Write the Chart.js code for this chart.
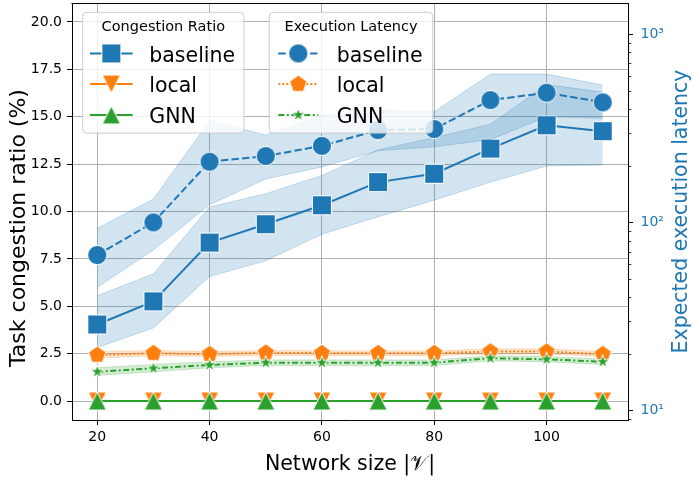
<!DOCTYPE html>
<html>
<head>
<meta charset="utf-8">
<script src="https://cdn.jsdelivr.net/npm/chart.js@4/dist/chart.umd.min.js"></script>
<style>
html,body{margin:0;padding:0;background:#ffffff;}
#wrap{width:696px;height:482px;position:relative;}
</style>
</head>
<body>
<div id="wrap"><canvas id="c" width="696" height="482"></canvas></div>
<script>
// ---------------- data ----------------
const networkSizes = [20, 30, 40, 50, 60, 70, 80, 90, 100, 110];

// Task congestion ratio (%) - left axis
const congBaseline      = [4.04, 5.26, 8.36, 9.33, 10.33, 11.55, 11.99, 13.32, 14.55, 14.24];
const congBaselineLow   = [2.82, 3.86, 6.57, 7.40, 8.80, 9.72, 10.60, 11.55, 12.40, 12.45];
const congBaselineHigh  = [5.56, 6.71, 10.24, 10.94, 11.90, 13.25, 13.90, 14.60, 16.70, 16.30];
const congLocal         = [0, 0, 0, 0, 0, 0, 0, 0, 0, 0];
const congGNN           = [0, 0, 0, 0, 0, 0, 0, 0, 0, 0];

// Expected execution latency - right (log) axis
const latBaseline       = [67.1, 100, 210, 225, 255, 309, 313, 446, 488, 434];
const latBaselineLow    = [45.2, 71.3, 124, 170, 197, 240, 252, 275, 364, 357];
const latBaselineHigh   = [93, 133, 347, 291, 371, 395, 387, 613, 613, 536];
const latLocal          = [19.76, 20.2, 19.95, 20.3, 20.2, 20.2, 20.2, 20.6, 20.6, 19.95];
const latLocalLow       = [19.0, 19.6, 19.4, 19.7, 19.6, 19.6, 19.6, 20.0, 20.0, 19.4];
const latLocalHigh      = [20.6, 20.9, 20.6, 20.9, 20.8, 20.8, 20.8, 21.3, 21.3, 20.6];
const latGNN            = [16.1, 16.8, 17.5, 18.0, 18.0, 18.0, 18.0, 19.0, 18.75, 18.2];
const latGNNLow         = [15.4, 16.1, 16.9, 17.4, 17.4, 17.4, 17.4, 18.4, 18.2, 17.6];
const latGNNHigh        = [16.9, 17.6, 18.2, 18.6, 18.6, 18.6, 18.6, 19.6, 19.4, 18.8];

// ticks
const xTicks = [20, 40, 60, 80, 100];
const yTicks = [0, 2.5, 5, 7.5, 10, 12.5, 15, 17.5, 20];
const y2MajorTicks = [10, 100, 1000];
const y2MajorLabels = ['10\u00B9', '10\u00B2', '10\u00B3'];
const y2MinorTicks = [9, 20, 30, 40, 50, 60, 70, 80, 90, 200, 300, 400, 500, 600, 700, 800, 900];

const legendCongTitle = 'Congestion Ratio';
const legendLatTitle = 'Execution Latency';
const seriesNames = ['baseline', 'local', 'GNN'];

// ---------------- styles ----------------
const BLUE = '#1f77b4', ORANGE = '#ff7f0e', GREEN = '#2ca02c';
const FONT = '"DejaVu Sans", "Liberation Sans", sans-serif';
Chart.defaults.font.family = FONT;

function drawShape(g, shape, cx, cy, color) {
  g.beginPath();
  if (shape === 'square') {
    g.rect(cx - 9.5, cy - 9.5, 19, 19);
  } else if (shape === 'circle') {
    g.arc(cx, cy, 9.6, 0, Math.PI * 2);
  } else if (shape === 'triUp') {
    g.moveTo(cx, cy - 9); g.lineTo(cx + 9, cy + 9); g.lineTo(cx - 9, cy + 9); g.closePath();
  } else if (shape === 'triDown') {
    g.moveTo(cx, cy + 9); g.lineTo(cx + 9, cy - 9); g.lineTo(cx - 9, cy - 9); g.closePath();
  } else if (shape === 'pentagon') {
    for (let k = 0; k < 5; k++) {
      const a = -Math.PI / 2 + k * 2 * Math.PI / 5;
      const px = cx + 9 * Math.cos(a), py = cy + 9 * Math.sin(a);
      if (k === 0) g.moveTo(px, py); else g.lineTo(px, py);
    }
    g.closePath();
  } else if (shape === 'star') {
    for (let k = 0; k < 10; k++) {
      const r = (k % 2 === 0) ? 7.2 : 7.2 * 0.381966;
      const a = -Math.PI / 2 + k * Math.PI / 5;
      const px = cx + r * Math.cos(a), py = cy + r * Math.sin(a);
      if (k === 0) g.moveTo(px, py); else g.lineTo(px, py);
    }
    g.closePath();
  }
  g.fillStyle = color; g.fill();
  g.lineWidth = 1; g.strokeStyle = '#ffffff'; g.lineJoin = 'miter'; g.stroke();
}
function marker(shape, color) {
  const c = document.createElement('canvas');
  c.width = 26; c.height = 26;
  drawShape(c.getContext('2d'), shape, 13, 13, color);
  return c;
}
const mk = {
  square: marker('square', BLUE),
  triDown: marker('triDown', ORANGE),
  triUp: marker('triUp', GREEN),
  circle: marker('circle', BLUE),
  pentagon: marker('pentagon', ORANGE),
  star: marker('star', GREEN)
};

const DASH_BASE = [7.4, 3.2];
const DASH_LOCAL = [2, 2];
const DASH_GNN = [6, 2.5, 2, 2.5];

function pts(ys) { return networkSizes.map((x, i) => ({x: x, y: ys[i]})); }

let seq = 0;
function bandLow(ys, axis, rgb) {
  return {data: pts(ys), yAxisID: axis, order: 100 - (seq++), pointRadius: 0, borderWidth: 1,
    borderColor: 'rgba(' + rgb + ',0.22)', fill: false, tension: 0};
}
function bandHigh(ys, axis, rgb) {
  return {data: pts(ys), yAxisID: axis, order: 100 - (seq++), pointRadius: 0, borderWidth: 1,
    borderColor: 'rgba(' + rgb + ',0.22)', backgroundColor: 'rgba(' + rgb + ',0.2)', fill: '-1', tension: 0};
}
function line(ys, axis, color, style, dash) {
  return {data: pts(ys), yAxisID: axis, order: 100 - (seq++), borderColor: color, borderWidth: 2,
    borderDash: dash, pointStyle: style, pointRadius: 10, pointHoverRadius: 10, fill: false, tension: 0};
}

const datasets = [
  bandLow(congBaselineLow, 'y', '31,119,180'),
  bandHigh(congBaselineHigh, 'y', '31,119,180'),
  line(congBaseline, 'y', BLUE, mk.square, []),
  line(congLocal, 'y', ORANGE, mk.triDown, []),
  line(congGNN, 'y', GREEN, mk.triUp, []),
  bandLow(latBaselineLow, 'y2', '31,119,180'),
  bandHigh(latBaselineHigh, 'y2', '31,119,180'),
  bandLow(latLocalLow, 'y2', '255,127,14'),
  bandHigh(latLocalHigh, 'y2', '255,127,14'),
  bandLow(latGNNLow, 'y2', '44,160,44'),
  bandHigh(latGNNHigh, 'y2', '44,160,44'),
  line(latBaseline, 'y2', BLUE, mk.circle, DASH_BASE),
  line(latLocal, 'y2', ORANGE, mk.pentagon, DASH_LOCAL),
  line(latGNN, 'y2', GREEN, mk.star, DASH_GNN)
];

// ---------------- custom drawing plugin ----------------
function drawLegend(ctx, box, title, entries) {
  ctx.save();
  ctx.beginPath();
  ctx.roundRect(box.x, box.y, box.w, box.h, 4);
  ctx.fillStyle = 'rgba(255,255,255,0.8)';
  ctx.fill();
  ctx.lineWidth = 1;
  ctx.strokeStyle = '#cccccc';
  ctx.stroke();
  ctx.fillStyle = '#000';
  ctx.font = '14.5px ' + FONT;
  ctx.textAlign = 'center';
  ctx.textBaseline = 'alphabetic';
  ctx.fillText(title, box.x + box.w / 2, 31);
  const rows = [53.4, 84.1, 114.9];
  entries.forEach((e, i) => {
    const cy = rows[i];
    ctx.beginPath();
    ctx.setLineDash(e.dash);
    ctx.strokeStyle = e.color;
    ctx.lineWidth = 2;
    ctx.moveTo(box.hx0, cy); ctx.lineTo(box.hx1, cy);
    ctx.stroke();
    ctx.setLineDash([]);
    const mx = (box.hx0 + box.hx1) / 2;
    ctx.drawImage(e.img, mx - 13, cy - 13);
    ctx.fillStyle = '#000';
    ctx.font = '20.5px ' + FONT;
    ctx.textAlign = 'left';
    ctx.fillText(e.label, box.tx, cy + 8.3);
  });
  ctx.restore();
}

const decor = {
  id: 'decor',
  afterDraw(chart) {
    const ctx = chart.ctx;
    const a = chart.chartArea;
    const y2 = chart.scales.y2;
    ctx.save();
    // top spine
    ctx.beginPath();
    ctx.strokeStyle = '#000'; ctx.lineWidth = 1;
    ctx.moveTo(a.left - 0.5, Math.round(a.top) + 0.5); ctx.lineTo(a.right + 0.5, Math.round(a.top) + 0.5);
    ctx.stroke();
    // minor ticks on log axis
    ctx.lineWidth = 0.8;
    y2MinorTicks.forEach(v => {
      if (v < y2.min || v > y2.max) return;
      const py = Math.round(y2.getPixelForValue(v)) + 0.5;
      ctx.beginPath(); ctx.moveTo(a.right, py); ctx.lineTo(a.right + 3.3, py); ctx.stroke();
    });
    // axis titles
    ctx.fillStyle = '#000';
    ctx.textAlign = 'center'; ctx.textBaseline = 'middle';
    ctx.font = '22px ' + FONT;
    ctx.save(); ctx.translate(19.5, 228); ctx.rotate(-Math.PI / 2);
    ctx.fillText('Task congestion ratio (%)', 0, 0); ctx.restore();
    ctx.font = '20.5px ' + FONT;
    ctx.save(); ctx.translate(681.5, (a.top + a.bottom) / 2); ctx.rotate(-Math.PI / 2);
    ctx.fillStyle = BLUE;
    ctx.fillText('Expected execution latency', 0, 0); ctx.restore();
    ctx.textBaseline = 'alphabetic';
    ctx.fillText('Network size |\uD835\uDCB1|', (a.left + a.right) / 2, 470);
    ctx.restore();
    // legends
    drawLegend(ctx, {x: 82.7, y: 12.3, w: 161.3, h: 120.8, hx0: 90, hx1: 132.7, tx: 149.3}, legendCongTitle, [
      {label: seriesNames[0], color: BLUE, dash: [], img: mk.square},
      {label: seriesNames[1], color: ORANGE, dash: [], img: mk.triDown},
      {label: seriesNames[2], color: GREEN, dash: [], img: mk.triUp}
    ]);
    drawLegend(ctx, {x: 269.3, y: 12.3, w: 163.5, h: 120.8, hx0: 278.3, hx1: 318.3, tx: 336.7}, legendLatTitle, [
      {label: seriesNames[0], color: BLUE, dash: DASH_BASE, img: mk.circle},
      {label: seriesNames[1], color: ORANGE, dash: DASH_LOCAL, img: mk.pentagon},
      {label: seriesNames[2], color: GREEN, dash: DASH_GNN, img: mk.star}
    ]);
  }
};

const tickFont = {size: 14, family: FONT};
function noPadV(s, w) { s.width = w; s.paddingTop = 0; s.paddingBottom = 0; }

new Chart(document.getElementById('c'), {
  type: 'line',
  data: {datasets: datasets},
  plugins: [decor],
  options: {
    responsive: false,
    animation: false,
    events: [],
    layout: {padding: {top: 3, left: 0, right: 0, bottom: 0}, autoPadding: false},
    plugins: {legend: {display: false}, tooltip: {enabled: false}},
    scales: {
      x: {
        type: 'linear', position: 'bottom', min: 15.5, max: 114.5,
        afterBuildTicks: s => { s.ticks = xTicks.map(v => ({value: v})); },
        afterFit: s => { s.height = 62; s.paddingLeft = 0; s.paddingRight = 0; },
        ticks: {font: tickFont, color: '#000', padding: 4, maxRotation: 0, autoSkip: false},
        grid: {color: '#b0b0b0', lineWidth: 1, tickLength: 5, tickColor: '#000', tickWidth: 1},
        border: {color: '#000', width: 1}
      },
      y: {
        type: 'linear', position: 'left', min: -1, max: 21,
        afterBuildTicks: s => { s.ticks = yTicks.map(v => ({value: v})); },
        afterFit: s => noPadV(s, 72),
        ticks: {font: tickFont, color: '#000', padding: 5, autoSkip: false, callback: v => Number(v).toFixed(1)},
        grid: {color: '#b0b0b0', lineWidth: 1, tickLength: 5, tickColor: '#000', tickWidth: 1},
        border: {color: '#000', width: 1}
      },
      y2: {
        type: 'logarithmic', position: 'right', min: 8.925, max: 1462,
        afterBuildTicks: s => { s.ticks = y2MajorTicks.map(v => ({value: v, major: true})); },
        afterFit: s => noPadV(s, 68),
        ticks: {font: tickFont, color: BLUE, padding: 7.5, autoSkip: false,
          callback: v => { const i = y2MajorTicks.indexOf(Number(v)); return i >= 0 ? y2MajorLabels[i] : ''; }},
        grid: {drawOnChartArea: false, tickLength: 5, tickColor: '#000', tickWidth: 1},
        border: {color: '#000', width: 1}
      }
    }
  }
});
</script>
</body>
</html>
